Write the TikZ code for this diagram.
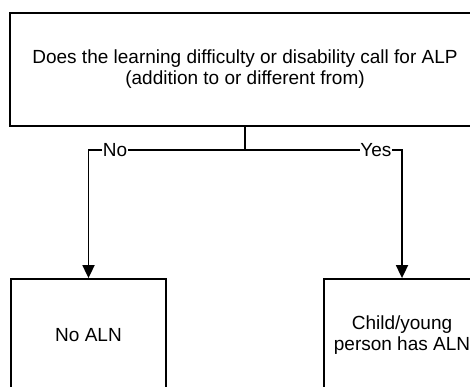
\documentclass[tikz,border=0pt]{standalone}
\usepackage{fontspec}
\setmainfont{Liberation Sans}
\usetikzlibrary{arrows.meta,positioning}

\begin{document}
\begin{tikzpicture}[x=1pt,y=1pt,
  box/.style={draw,line width=1.8pt,align=center,inner sep=0pt,font=\fontsize{19}{21}\selectfont},
  arr/.style={-{Triangle[length=13pt,width=12pt]},line width=1.8pt},
  lbl/.style={fill=white,inner sep=0.5pt,font=\fontsize{19}{21}\selectfont}
]
  \useasboundingbox (0,0) rectangle (470,387);
  \clip (0,0) rectangle (470,387);

  % Question
  \node[box,minimum width=470pt,minimum height=113pt] (alp) at (245,317.5)
    {Does the learning difficulty or disability call for ALP\\(addition to or different from)};
  \coordinate (split) at (245,237);

  % Outcomes
  \node[box,minimum width=155pt,minimum height=112pt] (noaln) at (88.5,52) {No ALN};
  \node[box,minimum width=156pt,minimum height=112pt] (hasaln) at (402,52) {Child/young\\person has ALN};

  \draw[line width=1.8pt] (alp.south) -- (split);
  \draw[arr] (split) -| node[lbl,pos=0.415] {No} (noaln.north);
  \draw[arr] (split) -| node[lbl,pos=0.417] {Yes} (hasaln.north);
\end{tikzpicture}
\end{document}
